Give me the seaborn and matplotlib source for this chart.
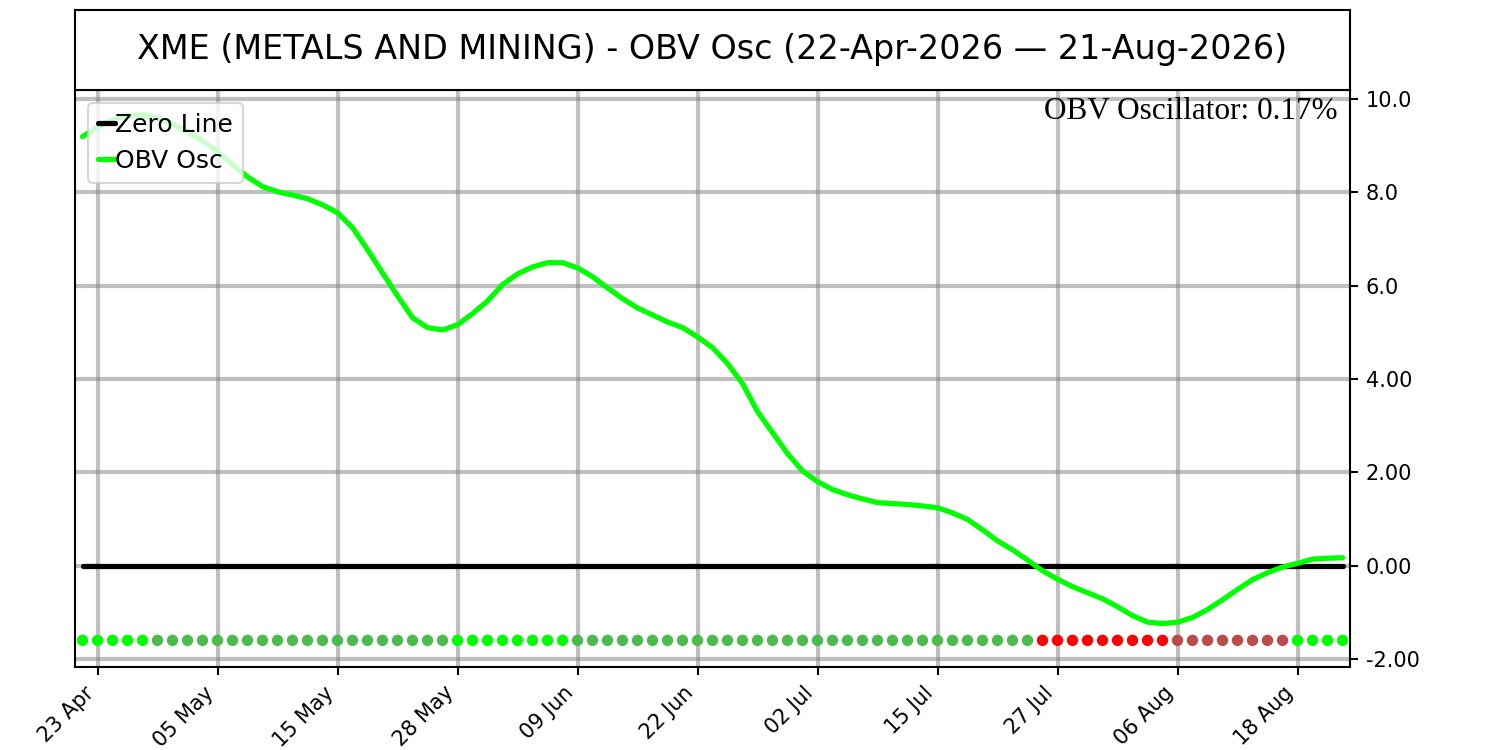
import numpy as np
import pandas as pd
import matplotlib
matplotlib.use("Agg")
import matplotlib.pyplot as plt
import seaborn as sns

# ---------------- data ----------------
start_date = "2026-04-22"
end_date = "2026-08-21"
holidays = ["2026-05-25", "2026-06-19", "2026-07-03"]

obv_osc = [9.19, 9.40, 9.55, 9.64, 9.66, 9.59, 9.46, 9.29, 9.10, 8.87,
           8.59, 8.33, 8.12, 8.01, 7.94, 7.86, 7.73, 7.56, 7.24, 6.77,
           6.27, 5.78, 5.31, 5.10, 5.05, 5.16, 5.40, 5.67, 6.02, 6.25,
           6.40, 6.49, 6.49, 6.38, 6.19, 5.95, 5.72, 5.52, 5.37, 5.22,
           5.10, 4.90, 4.67, 4.33, 3.90, 3.30, 2.85, 2.40, 2.03, 1.80,
           1.63, 1.52, 1.43, 1.35, 1.33, 1.31, 1.28, 1.24, 1.13, 0.99,
           0.77, 0.53, 0.34, 0.12, -0.11, -0.29, -0.45, -0.58, -0.71, -0.88,
           -1.07, -1.21, -1.24, -1.21, -1.11, -0.94, -0.73, -0.51, -0.30, -0.15,
           -0.03, 0.05, 0.14, 0.16, 0.17]

signal_runs = [("pos_up", 5), ("pos_down", 20), ("pos_up", 8), ("pos_down", 31),
               ("neg_down", 9), ("neg_up", 8), ("pos_up", 4)]
signal_level = -1.6

ytick_values = [-2, 0, 2, 4, 6, 8, 10]
ytick_labels = ["-2.00", "0.00", "2.00", "4.00", "6.0", "8.0", "10.0"]

title_text = "XME (METALS AND MINING) - OBV Osc (22-Apr-2026 \u2014 21-Aug-2026)"
annot_text = "OBV Oscillator: 0.17%"

# ---------------- build ----------------
dates = pd.bdate_range(start_date, end_date, freq="C", holidays=holidays)
idx = np.arange(len(obv_osc))
signals = [s for s, n in signal_runs for _ in range(n)]
df = pd.DataFrame({"idx": idx, "osc": obv_osc, "signal": signals,
                   "level": [signal_level] * len(idx), "zero": [0.0] * len(idx)})

palette = {"pos_up": "#00ff00", "pos_down": "#4cbb4c",
           "neg_down": "#ff0000", "neg_up": "#bb4b4b"}

sns.set_theme(style="white")
plt.rcParams["font.family"] = ["DejaVu Sans"]
plt.rcParams["text.color"] = "black"
plt.rcParams["axes.labelcolor"] = "black"
plt.rcParams["xtick.color"] = "black"
plt.rcParams["ytick.color"] = "black"

fig = plt.figure(figsize=(10, 5), dpi=150)
ax = fig.add_axes([0.05, 0.1107, 0.85, 0.7693])
tax = fig.add_axes([0.05, 0.88, 0.85, 0.1067])

# title box
tax.set_xticks([])
tax.set_yticks([])
for sp in tax.spines.values():
    sp.set_color("black")
    sp.set_linewidth(1.0)
tax.text(0.5, 0.5, title_text, ha="center", va="center", fontsize=16,
         color="black", transform=tax.transAxes)

# grid
ax.set_axisbelow(True)
ax.grid(True, color="grey", alpha=0.5, linewidth=2)

# data
ax.plot(df["idx"], df["zero"], color="black", linewidth=2.5, label="Zero Line", zorder=3)
sns.lineplot(data=df, x="idx", y="osc", color="#00ff00", linewidth=2.5,
             label="OBV Osc", ax=ax, zorder=4)
sns.scatterplot(data=df, x="idx", y="level", hue="signal", palette=palette,
                s=30, edgecolor="none", legend=False, ax=ax, zorder=5)

ax.set_xlim(-0.5, len(idx) - 0.5)
ax.set_ylim(-2.17, 10.19)

tick_pos = idx[1::8]
ax.set_xticks(tick_pos)
ax.set_xticklabels([dates[i].strftime("%d %b") for i in tick_pos],
                   rotation=45, ha="right", fontsize=10, color="black")
ax.yaxis.tick_right()
ax.set_yticks(ytick_values)
ax.set_yticklabels(ytick_labels, fontsize=10, color="black")
ax.tick_params(axis="both", which="both", length=4, width=1, colors="black",
               bottom=True, right=True, left=False)
ax.set_xlabel("")
ax.set_ylabel("")
for sp in ax.spines.values():
    sp.set_color("black")
    sp.set_linewidth(1.0)

ax.text(0.99, 0.988, annot_text, transform=ax.transAxes, ha="right", va="top",
        fontsize=15, color="black", family=["Liberation Serif", "DejaVu Serif"], zorder=6)

leg = ax.legend(loc="upper left", fontsize=12, handlelength=0.7,
                handletextpad=0.0, borderaxespad=0.5)
for t in leg.get_texts():
    t.set_color("black")

fig.savefig("out.png", dpi=150)
